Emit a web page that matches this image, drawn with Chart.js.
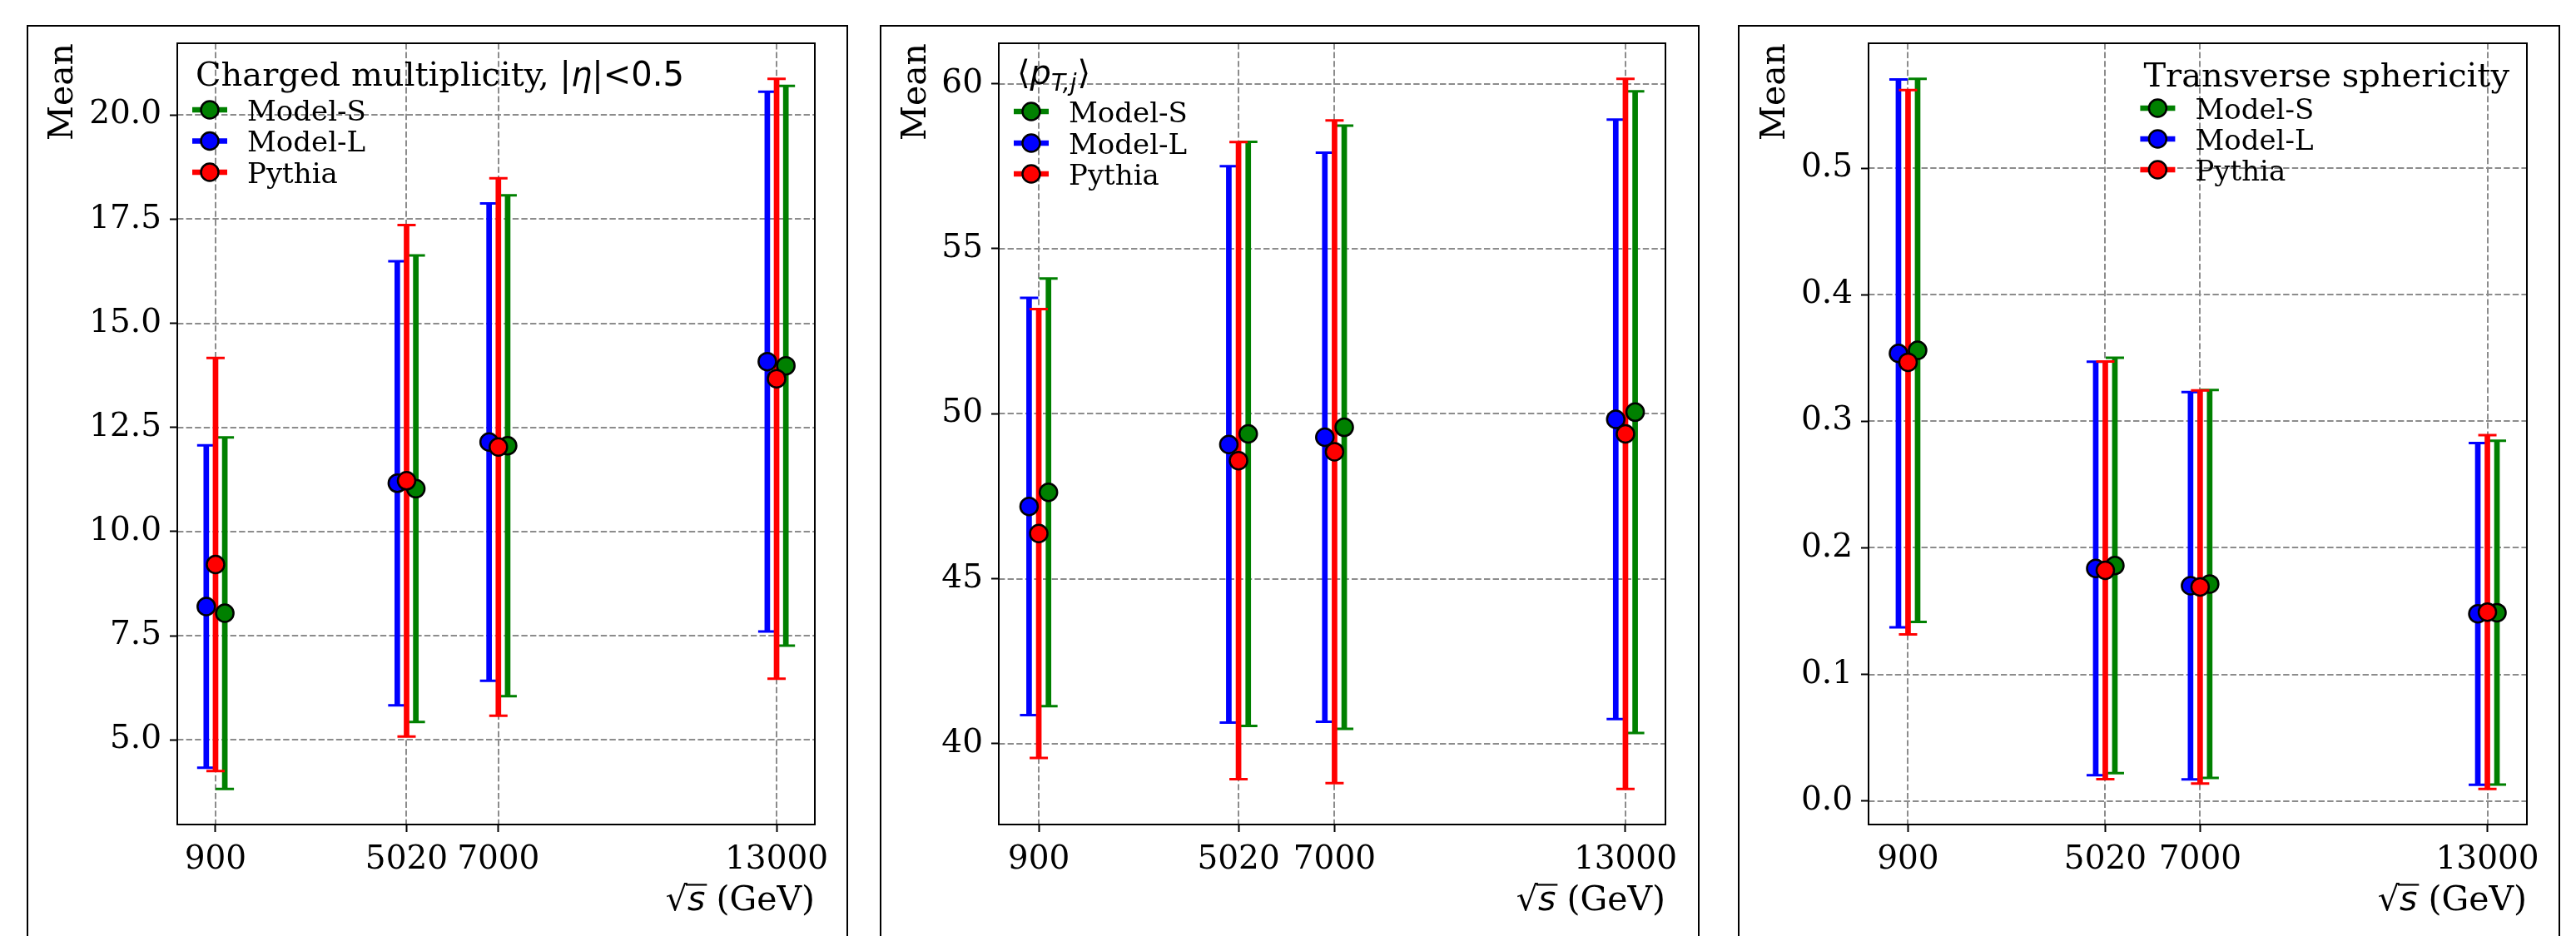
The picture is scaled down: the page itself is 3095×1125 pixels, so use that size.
<!DOCTYPE html>
<html><head><meta charset="utf-8">
<script src="https://cdn.jsdelivr.net/npm/chart.js@4.4.1/dist/chart.umd.min.js"></script>
<style>
html,body{margin:0;padding:0;background:#fff;overflow:hidden;width:3095px;height:1125px;position:relative;}
.frame{position:absolute;border:2px solid #000;box-sizing:border-box;height:1200px;}
canvas{position:absolute;top:0;}
</style></head><body>
<div class="frame" style="left:32px;top:30px;width:987px"></div>
<div class="frame" style="left:1057px;top:30px;width:985px"></div>
<div class="frame" style="left:2088px;top:30px;width:988px"></div>
<canvas id="c1" width="1038" height="1125" style="left:0px"></canvas>
<canvas id="c2" width="1027" height="1125" style="left:1038px"></canvas>
<canvas id="c3" width="1030" height="1125" style="left:2065px"></canvas>
<script>
// ---------------- data ----------------
const energies = [900, 5020, 7000, 13000];
const seriesNames = ['Model-S', 'Model-L', 'Pythia'];
const seriesColors = ['#008000', '#0000ff', '#ff0000'];

// Charged multiplicity, |eta|<0.5  (mean and std)
const multS_mean = [8.04, 11.03, 12.06, 13.98];
const multS_std  = [4.22, 5.60, 6.01, 6.72];
const multL_mean = [8.20, 11.16, 12.15, 14.08];
const multL_std  = [3.87, 5.33, 5.73, 6.48];
const multP_mean = [9.21, 11.22, 12.03, 13.67];
const multP_std  = [4.96, 6.14, 6.45, 7.20];

// <pT,j>
const ptS_mean = [47.62, 49.39, 49.59, 50.05];
const ptS_std  = [6.48, 8.85, 9.14, 9.72];
const ptL_mean = [47.19, 49.07, 49.29, 49.83];
const ptL_std  = [6.32, 8.43, 8.62, 9.08];
const ptP_mean = [46.37, 48.58, 48.85, 49.39];
const ptP_std  = [6.80, 9.65, 10.04, 10.76];

// Transverse sphericity
const sphS_mean = [0.356, 0.186, 0.1714, 0.1487];
const sphS_std  = [0.2146, 0.1641, 0.1532, 0.1358];
const sphL_mean = [0.3536, 0.1837, 0.170, 0.1478];
const sphL_std  = [0.2165, 0.1634, 0.153, 0.135];
const sphP_mean = [0.3466, 0.1822, 0.169, 0.1492];
const sphP_std  = [0.215, 0.165, 0.1553, 0.1398];

const xTickValues = [900, 5020, 7000, 13000];
const multTicks = [5, 7.5, 10, 12.5, 15, 17.5, 20];
const ptTicks = [40, 45, 50, 55, 60];
const sphTicks = [0, 0.1, 0.2, 0.3, 0.4, 0.5];

// ---------------- style ----------------
const SERIF = '"DejaVu Serif", serif';
const SANS = '"DejaVu Sans", sans-serif';
const seriesShift = [200, -200, 0];   // horizontal dodge of the three series (data units)
const TICK_FONT = 39, LABEL_FONT = 41, TITLE_FONT = 40, ENTRY_FONT = 34;
const PLOT_TOP = 52, PLOT_BOTTOM = 991, H = 1125;

const panels = [
  { id: 'c1', left: 0, width: 1038, plotL: 213, plotR: 979,
    means: [multS_mean, multL_mean, multP_mean], stds: [multS_std, multL_std, multP_std],
    yticks: multTicks, dec: 1, ylabelX: 87, legendRight: false,
    titleBase: 103, rows: [132, 169.5, 207],
    titleRuns: [
      { t: 'Charged multiplicity, ', font: `${TITLE_FONT}px ${SERIF}` },
      { t: '|', font: `${TITLE_FONT}px ${SANS}` },
      { t: 'η', font: `italic ${TITLE_FONT}px ${SANS}` },
      { t: '|<0.5', font: `${TITLE_FONT}px ${SANS}` } ] },
  { id: 'c2', left: 1038, width: 1027, plotL: 1200, plotR: 2001,
    means: [ptS_mean, ptL_mean, ptP_mean], stds: [ptS_std, ptL_std, ptP_std],
    yticks: ptTicks, dec: 0, ylabelX: 1112 - 1038, legendRight: false,
    titleBase: 101, rows: [134, 172, 209],
    titleRuns: [
      { t: '⟨', font: `${TITLE_FONT}px ${SANS}` },
      { t: 'p', font: `italic ${TITLE_FONT}px ${SANS}` },
      { t: 'T,j', font: `italic 28px ${SANS}`, dy: 8 },
      { t: '⟩', font: `${TITLE_FONT}px ${SANS}`, dx: 1 } ] },
  { id: 'c3', left: 2065, width: 1030, plotL: 2245, plotR: 3036,
    means: [sphS_mean, sphL_mean, sphP_mean], stds: [sphS_std, sphL_std, sphP_std],
    yticks: sphTicks, dec: 1, ylabelX: 2144 - 2065, legendRight: true,
    titleBase: 104, rows: [130, 167, 204],
    titleRuns: [ { t: 'Transverse sphericity', font: `${TITLE_FONT}px ${SERIF}` } ] }
];

function runsWidth(ctx, runs) {
  let w = 0;
  for (const r of runs) { ctx.font = r.font; w += ctx.measureText(r.t).width + (r.dx || 0); }
  return w;
}
function drawRuns(ctx, x, y, runs) {
  for (const r of runs) {
    ctx.font = r.font;
    x += (r.dx || 0);
    ctx.fillText(r.t, x, y + (r.dy || 0));
    x += ctx.measureText(r.t).width;
  }
  return x;
}

const deco = {
  id: 'deco',
  beforeDatasetsDraw(chart) {
    const p = chart.options.plugins.deco.panel;
    const ctx = chart.ctx, ca = chart.chartArea;
    const xs = chart.scales.x, ys = chart.scales.y;
    ctx.save();
    ctx.beginPath(); ctx.rect(ca.left, ca.top, ca.right - ca.left, ca.bottom - ca.top); ctx.clip();
    // dashed grid
    ctx.strokeStyle = '#8c8c8c'; ctx.lineWidth = 2; ctx.setLineDash([7.4, 3.2]);
    for (const v of xTickValues) {
      const px = Math.round(xs.getPixelForValue(v));
      ctx.beginPath(); ctx.moveTo(px, ca.top); ctx.lineTo(px, ca.bottom); ctx.stroke();
    }
    for (const v of p.yticks) {
      const py = Math.round(ys.getPixelForValue(v));
      ctx.beginPath(); ctx.moveTo(ca.left, py); ctx.lineTo(ca.right, py); ctx.stroke();
    }
    ctx.setLineDash([]);
    // error bars
    chart.data.datasets.forEach((ds) => {
      ctx.strokeStyle = ds.backgroundColor;
      ds.data.forEach((pt, i) => {
        const px = xs.getPixelForValue(pt.x);
        const yHi = ys.getPixelForValue(pt.y + ds.errStd[i]);
        const yLo = ys.getPixelForValue(pt.y - ds.errStd[i]);
        ctx.lineWidth = 6.7; ctx.lineCap = 'butt';
        ctx.beginPath(); ctx.moveTo(px, yHi); ctx.lineTo(px, yLo); ctx.stroke();
        ctx.lineWidth = 3;
        ctx.beginPath(); ctx.moveTo(px - 11, yHi); ctx.lineTo(px + 11, yHi);
        ctx.moveTo(px - 11, yLo); ctx.lineTo(px + 11, yLo); ctx.stroke();
      });
    });
    ctx.restore();
  },
  afterDatasetsDraw(chart) {
    const p = chart.options.plugins.deco.panel;
    const ctx = chart.ctx, ca = chart.chartArea;
    ctx.save();
    // axes frame
    ctx.strokeStyle = '#000'; ctx.lineWidth = 2;
    ctx.strokeRect(ca.left, ca.top, ca.right - ca.left, ca.bottom - ca.top);
    ctx.fillStyle = '#000';
    // y label "Mean"
    ctx.save();
    ctx.translate(p.ylabelX, ca.top);
    ctx.rotate(-Math.PI / 2);
    ctx.font = `${LABEL_FONT}px ${SERIF}`;
    ctx.textAlign = 'right'; ctx.textBaseline = 'alphabetic';
    ctx.fillText('Mean', 0, 0);
    ctx.restore();
    // x label  √s (GeV), right aligned at axes right
    ctx.textAlign = 'left'; ctx.textBaseline = 'alphabetic';
    const base = 1094;
    const xr = [
      { t: '√', font: `${LABEL_FONT}px ${SANS}` },
      { t: 's', font: `italic ${LABEL_FONT}px ${SANS}` },
      { t: ' (GeV)', font: `${LABEL_FONT}px ${SERIF}` } ];
    const w = runsWidth(ctx, xr);
    let x0 = ca.right - w;
    ctx.font = xr[0].font; const wRad = ctx.measureText('√').width;
    ctx.font = xr[1].font; const wS = ctx.measureText('s').width;
    drawRuns(ctx, x0, base, xr);
    ctx.lineWidth = 2.2;
    ctx.beginPath();
    ctx.moveTo(x0 + wRad - 2, base - 0.745 * LABEL_FONT);
    ctx.lineTo(x0 + wRad + wS + 2, base - 0.745 * LABEL_FONT);
    ctx.stroke();
    // legend
    const tw = runsWidth(ctx, p.titleRuns);
    const boxL = p.legendRight ? (ca.right - 21 - tw - 4) : (ca.left + 18);
    drawRuns(ctx, boxL + 4, p.titleBase, p.titleRuns);
    for (let i = 0; i < 3; i++) {
      const ry = p.rows[i];
      ctx.strokeStyle = seriesColors[i]; ctx.lineWidth = 6.7; ctx.lineCap = 'butt';
      ctx.beginPath(); ctx.moveTo(boxL, ry); ctx.lineTo(boxL + 42, ry); ctx.stroke();
      ctx.beginPath(); ctx.arc(boxL + 21, ry, 10.5, 0, Math.PI * 2);
      ctx.fillStyle = seriesColors[i]; ctx.fill();
      ctx.strokeStyle = '#000'; ctx.lineWidth = 2.5; ctx.stroke();
      ctx.fillStyle = '#000';
      ctx.font = `${ENTRY_FONT}px ${SERIF}`;
      ctx.fillText(seriesNames[i], boxL + 66, ry + 12.5);
    }
    ctx.restore();
  }
};

function makeChart(p) {
  // axis limits: data extent + 5% margin on each side
  const xsAll = [];
  seriesShift.forEach(s => energies.forEach(e => xsAll.push(e + s)));
  const xLo = Math.min(...xsAll), xHi = Math.max(...xsAll), xSpan = xHi - xLo;
  let yLo = Infinity, yHi = -Infinity;
  p.means.forEach((m, k) => m.forEach((v, i) => {
    yLo = Math.min(yLo, v - p.stds[k][i]); yHi = Math.max(yHi, v + p.stds[k][i]);
  }));
  const ySpan = yHi - yLo;
  const order = [3, 2, 1]; // Pythia drawn on top
  const datasets = seriesNames.map((name, k) => ({
    label: name,
    data: energies.map((e, i) => ({ x: e + seriesShift[k], y: p.means[k][i] })),
    errStd: p.stds[k],
    backgroundColor: seriesColors[k],
    borderColor: '#000',
    borderWidth: 2.5,
    pointRadius: 10.5,
    pointHoverRadius: 10.5,
    showLine: false,
    order: order[k]
  }));
  const tickFont = { family: SERIF, size: TICK_FONT };
  return new Chart(document.getElementById(p.id), {
    type: 'scatter',
    data: { datasets },
    options: {
      responsive: false, animation: false, devicePixelRatio: 1,
      layout: { padding: { left: 0, top: PLOT_TOP, right: (p.left + p.width) - p.plotR, bottom: 0 } },
      plugins: { legend: { display: false }, tooltip: { enabled: false }, deco: { panel: p } },
      scales: {
        x: {
          type: 'linear', position: 'bottom',
          min: xLo - 0.05 * xSpan, max: xHi + 0.05 * xSpan,
          afterBuildTicks: (s) => { s.ticks = xTickValues.map(v => ({ value: v })); },
          afterFit: (s) => { s.height = H - PLOT_BOTTOM; },
          ticks: { font: tickFont, color: '#000', padding: 10, maxRotation: 0, autoSkip: false,
                   callback: (v) => String(v) },
          grid: { display: true, drawOnChartArea: false, drawTicks: true, tickLength: 9,
                  tickWidth: 2, tickColor: '#000' },
          border: { display: false }
        },
        y: {
          type: 'linear', position: 'left',
          min: yLo - 0.05 * ySpan, max: yHi + 0.05 * ySpan,
          afterBuildTicks: (s) => { s.ticks = p.yticks.map(v => ({ value: v })); },
          afterFit: (s) => { s.width = p.plotL - p.left; },
          ticks: { font: tickFont, color: '#000', padding: 10, autoSkip: false,
                   callback: (v) => Number(v).toFixed(p.dec) },
          grid: { display: true, drawOnChartArea: false, drawTicks: true, tickLength: 9,
                  tickWidth: 2, tickColor: '#000' },
          border: { display: false }
        }
      }
    },
    plugins: [deco]
  });
}
panels.forEach(makeChart);
</script>
</body></html>
